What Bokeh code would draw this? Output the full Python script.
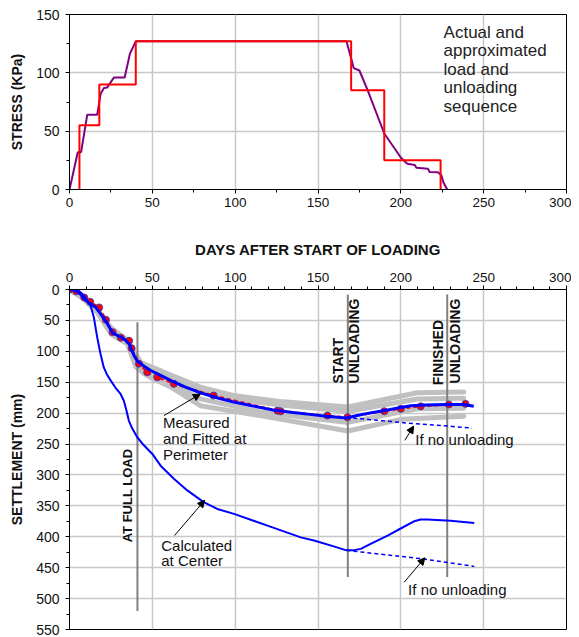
import math
from bokeh.plotting import figure
from bokeh.layouts import column
from bokeh.models import Range1d, SingleIntervalTicker, Label, Arrow, NormalHead
from bokeh.embed import file_html
from bokeh.resources import INLINE

FONT = "Liberation Sans"

# ---------------- top chart data ----------------
actual_days = [0, 5, 7, 10.7, 16.7, 18.8, 20.8, 22.8, 26.8, 33.3, 36.5, 40,
               167.2, 171.6, 175, 180, 190, 200.2, 203.9, 208.4, 209.4, 216.4,
               217.4, 222.4, 224.4, 225.8, 228]
actual_stress = [0, 32, 32, 64, 64, 82, 87, 87.5, 96, 96, 116.5, 127,
                 127, 104, 102, 85, 48, 27, 22, 21, 18.6, 17.7,
                 15, 14.8, 12.3, 5.7, 0]
approx_days = [6, 6, 18, 40, 170, 190, 224]
approx_stress = [0, 55, 90, 127, 85, 25, 0]

# ---------------- bottom chart data ----------------
fit_days = [0, 3, 5.8, 9.9, 15.9, 21.9, 26, 30, 33, 36, 39, 41, 45, 49, 55, 61,
            70, 79, 90, 99, 110, 123, 135, 145, 155, 167, 175, 185, 192, 200, 206,
            215, 228, 238, 244]
fit_mm = [0, 1, 5, 18, 29, 51, 70, 76, 80, 88, 107, 116, 124, 131, 139, 147,
          158, 167, 176, 182, 188, 195, 199, 202, 205, 208, 203, 198, 195, 191, 188,
          187, 186, 186, 189]

meas_days = [0, 4, 8.9, 12.5, 17.9, 22, 26, 31, 36, 37.5, 41.9, 46.9, 53, 63, 87, 125.5,
             127.5, 155.7, 167.8, 190, 200, 212, 229, 239]
meas_mm = [0, 3, 13, 20, 29, 49, 69, 78, 83, 95, 120, 134, 142, 152.6, 171.5, 196,
           197, 204, 206.6, 197, 193, 189, 186, 185]

g1_days = [0, 8, 17, 25, 35, 40, 43, 50, 60, 79, 100, 127, 168, 210, 238]
g1_mm = [0, 10, 32, 62, 82, 105, 118, 126, 137, 158, 172, 181, 190, 167, 166]
g2_days = [0, 8, 17, 25, 35, 40, 45, 50, 60, 79, 100, 127, 168, 210, 238]
g2_mm = [0, 12, 34, 66, 84, 110, 124, 129, 140, 164, 177, 187, 197, 177, 176]
g3_days = [0, 8, 17, 25, 35, 40, 45, 50, 60, 79, 115, 168, 210, 238]
g3_mm = [0, 13, 36, 70, 86, 118, 130, 139, 150, 177, 198, 215, 193, 192]
g4_days = [0, 8, 17, 25, 35, 40, 45, 50, 60, 79, 115, 168, 200, 238]
g4_mm = [0, 14, 38, 72, 88, 125, 136, 144, 156, 188, 204, 229, 210, 205]

perim_nounload_days = [167, 204, 243]
perim_nounload_mm = [207, 216, 224]

center_days = [0, 4, 6.6, 9, 10.7, 12.7, 14.7, 16.7, 18.7, 20.7, 22.7, 24.8, 27.8, 30.8,
               32.8, 34.3, 35.8, 37.9, 40.9, 44.9, 50, 55, 63, 71.1, 81, 89.2, 99.3,
               119.5, 139.6, 147.6, 160, 167.2, 171, 175.8, 183, 192, 201, 208, 212,
               216, 230, 244.3]
center_mm = [0, 1, 4.3, 11, 18, 26, 45, 77, 104, 126, 138, 147, 159, 169,
             180, 195, 212, 225, 239, 252, 266, 285, 306, 325, 344, 355, 363,
             382, 401, 406, 416, 422, 422, 419.6, 410, 398, 385, 375, 372,
             372, 374, 377.6]
center_nounload_days = [167.2, 214, 244.3]
center_nounload_mm = [422, 436, 448]

marker_lines_days = [41, 168, 228]
marker_lines_top = [53, 8, 8]
marker_lines_bottom = [520, 465, 465]


def style(p, xminor, yminor):
    p.outline_line_color = "black"
    p.outline_line_width = 1
    p.background_fill_color = "white"
    p.border_fill_color = "white"
    for g in p.grid:
        g.grid_line_color = "#c8c8c8"
        g.grid_line_width = 1.5
    for ax in p.axis:
        ax.axis_line_color = "black"
        ax.axis_line_width = 1
        ax.major_tick_line_color = "black"
        ax.minor_tick_line_color = "black"
        ax.major_tick_in = 0
        ax.major_tick_out = 4
        ax.minor_tick_in = 0
        ax.minor_tick_out = 3
        ax.major_label_text_font = FONT
        ax.major_label_text_color = "#111111"
        ax.axis_label_text_font = FONT
        ax.axis_label_text_font_style = "bold"
        ax.axis_label_text_color = "#111111"
    p.xaxis.ticker = SingleIntervalTicker(interval=50, num_minor_ticks=xminor)
    p.yaxis.ticker = SingleIntervalTicker(interval=50, num_minor_ticks=yminor)
    p.xaxis.major_label_text_font_size = "13.5px"
    p.yaxis.major_label_text_font_size = "14px"
    p.xaxis.major_label_standoff = 4
    p.yaxis.major_label_standoff = 6


# ---------------- top figure ----------------
p1 = figure(frame_width=497, frame_height=175, x_range=Range1d(0, 300), y_range=Range1d(0, 150),
            output_backend="svg", toolbar_location=None,
            min_border_left=69, min_border_right=5, min_border_top=14, min_border_bottom=26)
style(p1, 2, 2)
p1.yaxis.axis_label = "STRESS (KPa)"
p1.yaxis.axis_label_text_font_size = "14px"
p1.yaxis.axis_label_standoff = 8

p1.line(actual_days, actual_stress, line_color="#800080", line_width=2)
p1.step(approx_days, approx_stress, mode="after", line_color="#ff0000", line_width=2)

top_note = ["Actual and", "approximated", "load and", "unloading", "sequence"]
for i, t in enumerate(top_note):
    p1.add_layout(Label(x=225.8, y=135 - i * 15.9, text=t, text_font=FONT, text_font_size="17px",
                        text_color="#222222", text_align="left", text_baseline="middle"))

# ---------------- bottom figure ----------------
p2 = figure(frame_width=497, frame_height=340, x_range=Range1d(0, 300), y_range=Range1d(550, 0),
            x_axis_location="above", output_backend="svg", toolbar_location=None,
            min_border_left=69, min_border_right=5, min_border_top=74, min_border_bottom=7)
style(p2, 5, 2)
p2.xaxis.axis_label = "DAYS AFTER START OF LOADING"
p2.xaxis.axis_label_text_font_size = "15px"
p2.xaxis.axis_label_standoff = 12
p2.yaxis.axis_label = "SETTLEMENT (mm)"
p2.yaxis.axis_label_text_font_size = "14px"
p2.yaxis.axis_label_standoff = 8

for gx, gy in [(g1_days, g1_mm), (g2_days, g2_mm), (g3_days, g3_mm), (g4_days, g4_mm)]:
    p2.line(gx, gy, line_color="#c0c0c0", line_width=5, line_join="round", line_cap="round")

p2.segment(x0=marker_lines_days, y0=marker_lines_top, x1=marker_lines_days, y1=marker_lines_bottom,
           line_color="#808080", line_width=2)

p2.line(meas_days, meas_mm, line_color="#ff0000", line_width=2, line_dash="4 3")
p2.scatter(meas_days, meas_mm, size=7, fill_color="#ff0000", line_color="#4a3aa8", line_width=1)
p2.line(fit_days, fit_mm, line_color="#0000ff", line_width=3)
p2.line(perim_nounload_days, perim_nounload_mm, line_color="#0000ff", line_width=1.5, line_dash="4 3")
p2.line(center_days, center_mm, line_color="#0000ff", line_width=2)
p2.line(center_nounload_days, center_nounload_mm, line_color="#0000ff", line_width=1.5, line_dash="4 3")


def txt(x, y, t, size="15px", bold=False, angle=0, align="left", baseline="middle"):
    p2.add_layout(Label(x=x, y=y, text=t, text_font=FONT, text_font_size=size,
                        text_font_style="bold" if bold else "normal", text_color="#111111",
                        angle=angle, angle_units="deg", text_align=align, text_baseline=baseline))


# vertical labels
txt(35, 409, "AT FULL LOAD", size="13px", bold=True, angle=90)
txt(162, 152, "START", size="14px", bold=True, angle=90)
txt(172, 152, "UNLOADING", size="14px", bold=True, angle=90)
txt(222.6, 155, "FINISHED", size="14px", bold=True, angle=90)
txt(232.6, 152, "UNLOADING", size="14px", bold=True, angle=90)

# annotations
for i, t in enumerate(["Measured", "and Fitted at", "Perimeter"]):
    txt(56.4, 215.7 + i * 25.9, t)
for i, t in enumerate(["Calculated", "at Center"]):
    txt(55.4, 414 + i * 23.7, t)
txt(208.7, 243, "If no unloading")
txt(204.4, 485, "If no unloading")

arrows = [(57, 204, 79, 169), (63.4, 398, 81.6, 341), (202.4, 244, 207.7, 221), (202, 473.6, 214.5, 434)]
for xs, ys, xe, ye in arrows:
    p2.add_layout(Arrow(end=NormalHead(size=7, fill_color="black", line_color="black"),
                        x_start=xs, y_start=ys, x_end=xe, y_end=ye,
                        line_color="black", line_width=1))

layout = column(p1, p2)
open("out.html", "w").write(file_html(layout, INLINE))
